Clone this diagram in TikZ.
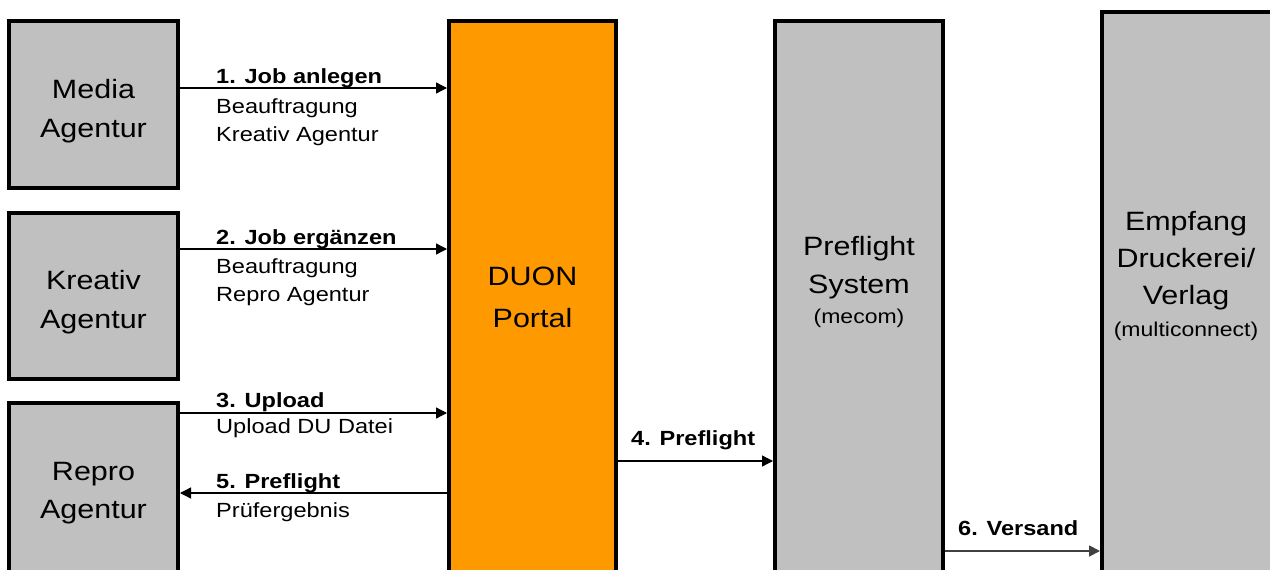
\documentclass[tikz,border=0pt]{standalone}
\usepackage{fontspec}
\setmainfont{Liberation Sans}
\newfontfamily\arialx[FakeStretch=1.15]{Liberation Sans}
\usetikzlibrary{arrows.meta}
\definecolor{boxgray}{HTML}{C0C0C0}
\definecolor{duonorange}{HTML}{FF9900}
\begin{document}
\begin{tikzpicture}[x=1pt,y=-1pt,
  box/.style={draw=black, line width=4pt, fill=boxgray, inner sep=0pt, outer sep=0pt, anchor=north west},
  boxtxt/.style={font=\arialx\fontsize{26.5}{30}\selectfont, anchor=base, inner sep=0pt},
  smalltxt/.style={font=\arialx\fontsize{20}{24}\selectfont, anchor=base, inner sep=0pt},
  lbl/.style={font=\arialx\bfseries\fontsize{20.5}{24}\selectfont, anchor=base west, inner sep=0pt},
  sublbl/.style={font=\arialx\fontsize{20.5}{24}\selectfont, anchor=base west, inner sep=0pt},
  arr/.style={line width=1.3pt, -{Triangle[length=11pt,width=11pt]}, shorten >=2pt, shorten <=2pt}]
\useasboundingbox (0,0) rectangle (1270,570);
\clip (0,0) rectangle (1270,570);
% boxes
\node[box, minimum width=169pt, minimum height=167pt] (media) at (9,21) {};
\node[box, minimum width=169pt, minimum height=166pt] (kreativ) at (9,213) {};
\node[box, minimum width=169pt, minimum height=200pt] (repro) at (9,403) {};
\node[box, fill=duonorange, minimum width=167pt, minimum height=580pt] (duon) at (449,21) {};
\node[box, minimum width=168pt, minimum height=580pt] (pref) at (775,21) {};
\node[box, minimum width=170pt, minimum height=590pt] (empf) at (1102,12) {};
% box texts
\node[boxtxt] (mediaA) at (93.5,98) {Media};
\node[boxtxt] (mediaB) at (93.5,137) {Agentur};
\node[boxtxt] (kreativA) at (93.5,289) {Kreativ};
\node[boxtxt] (kreativB) at (93.5,328) {Agentur};
\node[boxtxt] (reproA) at (93.5,480) {Repro};
\node[boxtxt] (reproB) at (93.5,518) {Agentur};
\node[boxtxt] (duonA) at (532.5,285) {DUON};
\node[boxtxt] (duonB) at (532.5,327) {Portal};
\node[boxtxt] (prefA) at (859,255) {Preflight};
\node[boxtxt] (prefB) at (859,293) {System};
\node[smalltxt] (prefC) at (859,323) {(mecom)};
\node[boxtxt] (empfA) at (1186,230) {Empfang};
\node[boxtxt] (empfB) at (1186,267) {Druckerei/};
\node[boxtxt] (empfC) at (1186,304) {Verlag};
\node[smalltxt] (empfD) at (1186,336) {(multiconnect)};
% arrows
\draw[arr] (media.east |- 0,88) -- (duon.west |- 0,88);
\draw[arr] (kreativ.east |- 0,249) -- (duon.west |- 0,249);
\draw[arr] (repro.east |- 0,413) -- (duon.west |- 0,413);
\draw[arr] (duon.west |- 0,493) -- (repro.east |- 0,493);
\draw[arr] (duon.east |- 0,461) -- (pref.west |- 0,461);
\draw[arr, line width=1.8pt, draw=black!75, fill=black] (pref.east |- 0,551) -- (empf.west |- 0,551);
% labels
\node[lbl] (l1a) at (216,83) {1. Job anlegen};
\node[sublbl] (l1b) at (216,113) {Beauftragung};
\node[sublbl] (l1c) at (216,141) {Kreativ Agentur};
\node[lbl] (l2a) at (216,244) {2. Job ergänzen};
\node[sublbl] (l2b) at (216,273) {Beauftragung};
\node[sublbl] (l2c) at (216,301) {Repro Agentur};
\node[lbl] (l3a) at (216,407) {3. Upload};
\node[sublbl] (l3b) at (216,433) {Upload DU Datei};
\node[lbl] (l5a) at (216,488) {5. Preflight};
\node[sublbl] (l5b) at (216,517) {Prüfergebnis};
\node[lbl] (l4a) at (631,445) {4. Preflight};
\node[lbl] (l6a) at (958,535) {6. Versand};
\end{tikzpicture}
\end{document}
